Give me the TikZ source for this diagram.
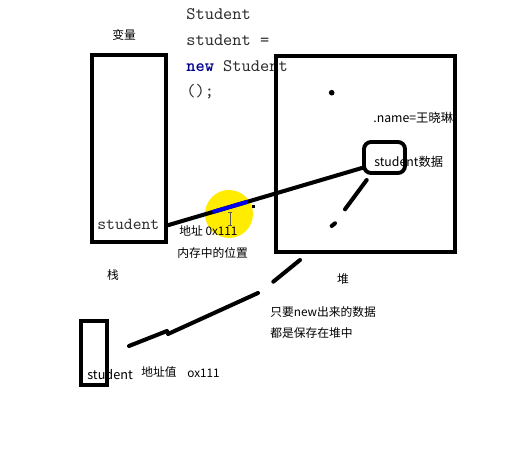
\documentclass[tikz,border=0pt]{standalone}
\usepackage{fontspec}
\setmainfont{Noto Sans CJK SC}
\usetikzlibrary{calc}
\definecolor{MarkYellow}{RGB}{255,236,0}
\definecolor{LineBlue}{RGB}{0,0,235}
\definecolor{KeyBlue}{RGB}{0,0,140}
\definecolor{CursorGray}{RGB}{90,90,90}
\definecolor{CodeGray}{RGB}{45,45,45}

\begin{document}
\begin{tikzpicture}[x=0.02cm,y=-0.02cm,
    box/.style={draw,line width=2.2pt,inner sep=0pt},
    lbl/.style={anchor=west,inner sep=0pt,font=\fontsize{6.7}{8}\selectfont},
    code/.style={anchor=base west,inner sep=0pt,text=CodeGray,font=\ttfamily\fontsize{10}{12}\selectfont},
    stroke/.style={line width=2.3pt,line cap=round}]
  \useasboundingbox (0,0) rectangle (531,459);
  % highlight under the reference
  \fill[MarkYellow] (229,214) circle (0.48cm);
  % code
  \node[code] (c1) at (186,20) {Student};
  \node[code] (c2) at (186,46) {student =};
  \node[code] (c3) at (186,72) {\textcolor{KeyBlue}{\bfseries new} Student};
  \node[code] (c4) at (186,97) {();};
  % stack
  \node[lbl] (var) at (112,35) {变量};
  \node[box,minimum width=1.48cm,minimum height=3.74cm] (stack) at (129,148.5) {};
  \node[code,font=\ttfamily\fontsize{9.6}{11}\selectfont] (stuvar) at (97,230) {student};
  \node (stk) at (113,275) {\fontsize{6.7}{8}\selectfont 栈};
  % heap
  \node[box,minimum width=3.58cm,minimum height=3.92cm] (heap) at (365.5,154) {};
  \node (hp) at (343,279) {\fontsize{6.7}{8}\selectfont 堆};
  \fill (331.7,92.7) circle (1.6pt);
  \node[lbl,font=\fontsize{7}{8}\selectfont] (name) at (373,118) {.name=王晓琳};
  \node[box,rounded corners=4pt,minimum width=0.82cm,minimum height=0.62cm] (data) at (384.5,157.5) {};
  \node[lbl,font=\fontsize{7}{8}\selectfont] (dtxt) at (374,161.5) {student数据};
  % reference
  \coordinate (from) at (stack.east |- stuvar.mid);
  \coordinate (to) at (data.205);
  \draw[stroke] (from) -- (to);
  \draw[LineBlue,line width=2.3pt] ($(from)!0.23!(to)$) -- ($(from)!0.41!(to)$);
  \fill (251.5,205.5) rectangle (254.5,208.5);
  \draw[CursorGray,line width=0.5pt] (230,212) -- (230,225) (228,212) -- (232,212) (228,225) -- (232,225);
  \node[lbl] (addr) at (179,231) {地址 0x111};
  \node[lbl] (pos) at (177,253) {内存中的位置};
  % strokes
  \draw[stroke] (366.7,180) -- (345,209.3);
  \draw[stroke] (331.7,226) -- (335,223.3);
  \draw[stroke] (300,260) -- (273.3,281.7);
  \draw[stroke] (258,293) -- (168,334);
  \draw[stroke] (167,331) -- (129,346);
  \node[lbl] (note1) at (270,312) {只要new出来的数据};
  \node[lbl] (note2) at (270,333) {都是保存在堆中};
  % second variable
  \node[box,minimum width=0.52cm,minimum height=1.28cm] (ref) at (94,353) {};
  \node[lbl,font=\fontsize{7.2}{8}\selectfont] (stu2) at (87,375) {student};
  \node[lbl] (val) at (141,372) {地址值};
  \node[lbl] (hex) at (187,373) {ox111};
\end{tikzpicture}
\end{document}
